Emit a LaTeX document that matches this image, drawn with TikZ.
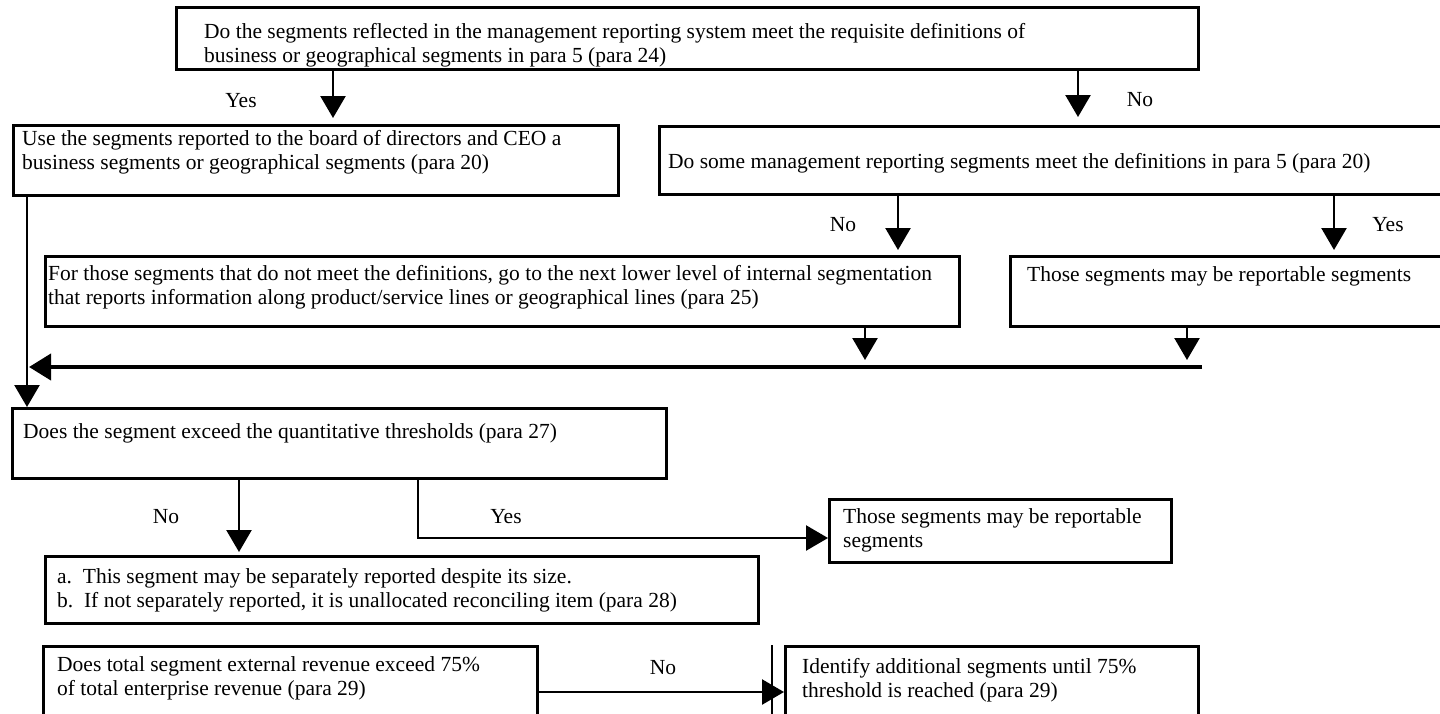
\documentclass[tikz,border=0pt]{standalone}
\usepackage{fontspec}
\setmainfont{Liberation Serif}
\usetikzlibrary{arrows.meta}
\newcommand{\txtlines}[1]{\begin{tabular}[t]{@{}l@{}}#1\end{tabular}}
\begin{document}
\begin{tikzpicture}[x=1pt,y=-1pt,
  font=\fontsize{21.5}{24}\selectfont,
  box/.style={draw, line width=2.7pt, anchor=north west, inner sep=0pt},
  txt/.style={anchor=base west, inner sep=0pt},
  lbl/.style={inner sep=0pt},
  arr/.style={line width=2.5pt, -{Triangle[width=25pt,length=22pt]}},
  bus/.style={line width=4pt, -{Triangle[width=26pt,length=22pt]}}]
\useasboundingbox (0,0) rectangle (1440,713);
\clip (0,0) rectangle (1440,713);
% boxes
\node[box, minimum width=1022pt, minimum height=62pt] (A) at (175,6) {};
\node[box, minimum width=605pt, minimum height=70pt] (B) at (12,124) {};
\node[box, minimum width=800pt, minimum height=68pt] (C) at (658,125) {};
\node[box, minimum width=914pt, minimum height=70pt] (D) at (44,255) {};
\node[box, minimum width=450pt, minimum height=70pt] (E) at (1009,255) {};
\node[box, minimum width=654pt, minimum height=70pt] (F) at (11,407) {};
\node[box, minimum width=342pt, minimum height=63pt] (G) at (828,498) {};
\node[box, minimum width=713pt, minimum height=67pt] (H) at (44,555) {};
\node[box, minimum width=494pt, minimum height=100pt] (I) at (42,645) {};
\node[box, minimum width=413pt, minimum height=100pt] (J) at (784,645) {};
% texts
\node[txt] (At) at (204,38) {\txtlines{Do the segments reflected in the management reporting system meet the requisite definitions of\\business or geographical segments in para 5 (para 24)}};
\node[txt] (Bt) at (22,145) {\txtlines{Use the segments reported to the board of directors and CEO a\\business segments or geographical segments (para 20)}};
\node[txt] (Ct) at (668,168) {Do some management reporting segments meet the definitions in para 5 (para 20)};
\node[txt] (Dt) at (48,280) {\txtlines{For those segments that do not meet the definitions, go to the next lower level of internal segmentation\\that reports information along product/service lines or geographical lines (para 25)}};
\node[txt] (Et) at (1027,281) {Those segments may be reportable segments};
\node[txt] (Ft) at (23,438) {Does the segment exceed the quantitative thresholds (para 27)};
\node[txt] (Gt) at (843,523) {\txtlines{Those segments may be reportable\\segments}};
\node[txt] (Ht) at (57,583) {\txtlines{a.\ \ This segment may be separately reported despite its size.\\b.\ \ If not separately reported, it is unallocated reconciling item (para 28)}};
\node[txt] (It) at (57,671) {\txtlines{Does total segment external revenue exceed 75\%\\of total enterprise revenue (para 29)}};
\node[txt] (Jt) at (802,673) {\txtlines{Identify additional segments until 75\%\\threshold is reached (para 29)}};
% labels
\node[lbl] (l1) at (241,101) {Yes};
\node[lbl] (l2) at (1140,100) {No};
\node[lbl] (l3) at (843,225) {No};
\node[lbl] (l4) at (1388,225) {Yes};
\node[lbl] (l5) at (166,517) {No};
\node[lbl] (l6) at (506,517) {Yes};
\node[lbl] (l7) at (663,668) {No};
% connectors
\coordinate (busR) at (1202,367);
\coordinate (busL) at (29,367);
\coordinate (j1) at (865,367);
\coordinate (j2) at (1187,367);
\draw[arr, shorten >=6pt] ([xshift=158pt]A.south west) -- ([xshift=321pt]B.north west);
\draw[arr, shorten >=8pt] ([xshift=903pt]A.south west) -- ([xshift=420pt]C.north west);
\draw[arr, shorten >=5pt] ([xshift=240pt]C.south west) -- ([xshift=854pt]D.north west);
\draw[arr, shorten >=5pt] ([xshift=676pt]C.south west) -- ([xshift=325pt]E.north west);
\draw[arr, shorten >=7pt] ([xshift=821pt]D.south west) -- (j1);
\draw[arr, shorten >=7pt] ([xshift=178pt]E.south west) -- (j2);
\draw[bus] (busR) -- (busL);
\draw[arr] ([xshift=15pt]B.south west) -- ([xshift=16pt]F.north west);
\draw[arr, shorten >=3pt] ([xshift=228pt]F.south west) -- ([xshift=195pt]H.north west);
\draw[arr] ([xshift=407pt]F.south west) |- ([yshift=-40pt]G.north west);
\draw[arr] ([yshift=-47pt]I.north east) -- ([yshift=-47pt]J.north west);
\draw[line width=2pt] ([xshift=-12pt]J.north west) -- ++(0,80);
\end{tikzpicture}
\end{document}
